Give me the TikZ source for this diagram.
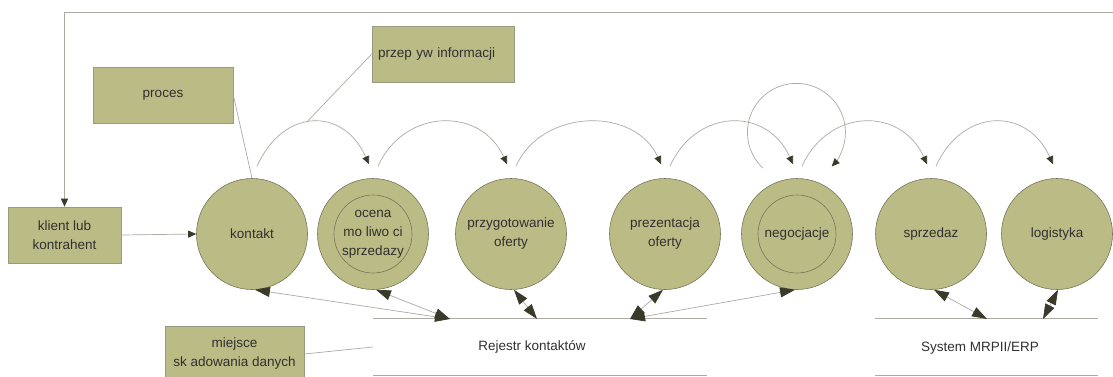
\documentclass[tikz,border=0pt]{standalone}
\usepackage{fontspec}
\setmainfont{Liberation Sans}
\usetikzlibrary{arrows.meta}

\definecolor{procfill}{HTML}{BBBB86}
\definecolor{circc}{HTML}{77775A}
\definecolor{boxc}{HTML}{9A9A80}
\definecolor{linec}{HTML}{ABABA3}
\definecolor{tipc}{HTML}{3A3A2A}
\definecolor{txtc}{HTML}{303030}

\begin{document}
\begin{tikzpicture}[x=1pt,y=1pt,
  every node/.style={font=\fontsize{13.5}{19}\selectfont, text=txtc},
  proc/.style={circle, draw=circc, line width=0.6pt, fill=procfill,
    minimum size=111pt, inner sep=0pt, align=center},
  ring/.style={draw=circc, line width=0.6pt},
  ent/.style={rectangle, draw=boxc, line width=0.6pt, fill=procfill,
    minimum height=56pt, inner sep=0pt, align=center},
  store/.style={rectangle, draw=none, minimum height=56pt, inner sep=0pt},
  storeline/.style={draw=linec, line width=0.9pt},
  link/.style={draw=linec, line width=0.7pt},
  flow/.style={link, -{Triangle[length=8pt,width=7pt,color=tipc]}},
  dflow/.style={link, {Triangle[length=15pt,width=10pt,color=tipc]}-{Triangle[length=15pt,width=10pt,color=tipc]}},
]
\useasboundingbox (0,0) rectangle (1113,376);

% external entities
\node[ent, minimum width=113pt] (klient) at (64.5,141) {klient lub\\kontrahent};
\node[ent, minimum width=140pt] (proces) at (163,281) {proces};
\node[ent, minimum width=142pt, text width=130pt, align=left, inner xsep=6pt]
  (przep) at (443,322) {przep yw informacji};
\node[ent, minimum width=139pt] (miejsce) at (234.5,22) {miejsce\\sk adowania danych};

% processes
\node[proc] (kontakt) at (252,142) {kontakt};
\node[proc] (ocena)   at (373,142) {ocena\\mo liwo ci\\sprzedazy};
\node[proc] (przyg)   at (511,142) {przygotowanie\\oferty};
\node[proc] (prez)    at (665,142) {prezentacja\\oferty};
\node[proc] (neg)     at (797,142) {negocjacje};
\node[proc] (sprz)    at (931,142) {sprzedaz};
\node[proc] (log)     at (1057,142) {logistyka};
\draw[ring] (ocena.center) circle[radius=39pt];
\draw[ring] (neg.center) circle[radius=39pt];

% data stores
\node[store, minimum width=334pt] (rej) at (540,29) {};
\node (rejt) at (532,29) {Rejestr kontaktów};
\node[store, minimum width=223pt] (erp) at (986.5,29) {};
\node (erpt) at (980,28) {System MRPII/ERP};
\draw[storeline] (rej.north west) -- (rej.north east)
                 (rej.south west) -- (rej.south east);
\draw[storeline] (erp.north west) -- (erp.north east)
                 (erp.south west) -- (erp.south east);

% feedback from the end of the chain back to the client
\coordinate (fbin) at (1113,364);
\draw[flow] (fbin) -| (klient.north);
\draw[flow] (klient.east) -- (kontakt.west);

% sequence of steps
\draw[flow] ([shift={(5,12)}]kontakt.north) .. controls +(26,58) and +(-26,58)
  .. ([shift={(-4,14)}]ocena.north) coordinate[pos=0.45] (infopt);
\foreach \a/\b in {ocena/przyg, przyg/prez, prez/neg, neg/sprz, sprz/log}
  \draw[flow] ([shift={(5,12)}]\a.north) .. controls +(26,58) and +(-26,58)
    .. ([shift={(-4,14)}]\b.north);
\draw[flow] ([shift={(-34,10)}]neg.north) arc[start angle=227, end angle=-44, radius=49pt];

% annotations
\draw[link] (proces.east) -- (kontakt.north);
\draw[link] (przep.west) -- (infopt);
\draw[link] (miejsce.east) -- (rej.west);

% access to the stores
\coordinate (r1) at (450,57);
\coordinate (r2) at (537,57);
\coordinate (r3) at (630,57);
\coordinate (s1) at (987,57);
\coordinate (s2) at (1043,57);
\draw[dflow] (kontakt.-87) -- (r1);
\draw[dflow] (ocena.-87) -- (r1);
\draw[dflow] (przyg.-87) -- (r2);
\draw[dflow] (prez.-92) -- (r3);
\draw[dflow] (neg.-92) -- (r3);
\draw[dflow] (sprz.-87) -- (s1);
\draw[dflow] (log.-89) -- (s2);
\end{tikzpicture}
\end{document}
